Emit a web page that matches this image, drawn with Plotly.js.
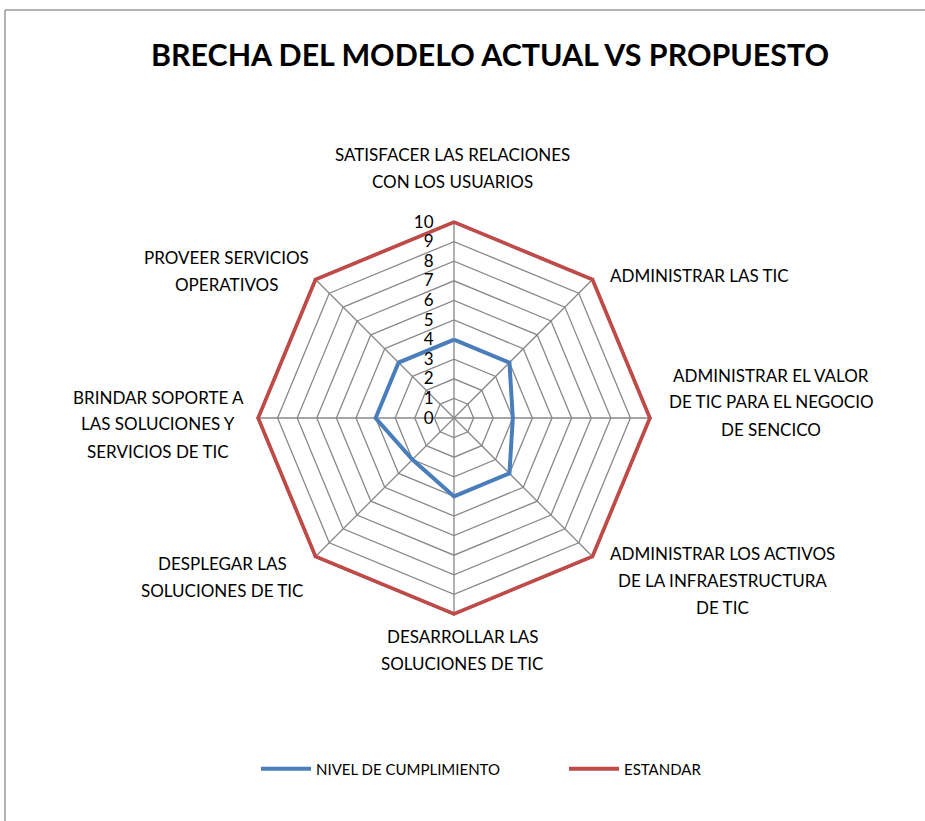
<!DOCTYPE html>
<html>
<head>
<meta charset="utf-8">
<script src="https://cdn.plot.ly/plotly-3.0.1.min.js"></script>
<style>
html,body{margin:0;padding:0;background:#fff;overflow:hidden;}
#chart{width:925px;height:821px;}
</style>
</head>
<body>
<div id="chart"></div>
<script>
// ---- data ----
const categories = [
  "SATISFACER LAS RELACIONES<br>CON LOS USUARIOS",
  "ADMINISTRAR LAS TIC",
  "ADMINISTRAR EL VALOR<br>DE TIC PARA EL NEGOCIO<br>DE SENCICO",
  "ADMINISTRAR LOS ACTIVOS<br>DE LA INFRAESTRUCTURA<br>DE TIC",
  "DESARROLLAR LAS<br>SOLUCIONES DE TIC",
  "DESPLEGAR LAS<br>SOLUCIONES DE TIC",
  "BRINDAR SOPORTE A<br>LAS SOLUCIONES Y<br>SERVICIOS DE TIC",
  "PROVEER SERVICIOS<br>OPERATIVOS"
];
const nivel = [4, 4, 3, 4, 4, 3, 4, 4];
const estandar = [10, 10, 10, 10, 10, 10, 10, 10];
const seriesNames = ["NIVEL DE CUMPLIMIENTO", "ESTANDAR"];
const radialTicks = [0,1,2,3,4,5,6,7,8,9,10];

// ---- layout helpers ----
const W = 925, H = 821;
const px = x => x / W;
const py = y => 1 - y / H;
const LINE_H = 27;
// polar centre / radius (pixels) of value 10; range padded so outer line is not clipped
const CX = 454, CY = 418, R10 = 196, RMAX = 10.1;
const RD = R10 * RMAX / 10;
// label anchor positions (pixels, centre of label block) and alignment
const labelPos = [
  {x: 452, y: 168, xa: "center"},
  {x: 608, y: 276, xa: "left"},
  {x: 771, y: 402, xa: "center"},
  {x: 722, y: 580, xa: "center"},
  {x: 462, y: 650, xa: "center"},
  {x: 222, y: 577, xa: "center"},
  {x: 158, y: 424, xa: "center"},
  {x: 226, y: 271, xa: "center"}
];

const FONT = "Lato, 'Open Sans', sans-serif";

function closed(a){ return a.concat([a[0]]); }
const theta = closed(categories);

const traces = [
  {
    type: "scatterpolar", mode: "lines", cliponaxis: false,
    r: closed(nivel), theta: theta, name: seriesNames[0],
    line: {color: "#4A7EBB", width: 4}
  },
  {
    type: "scatterpolar", mode: "lines", cliponaxis: false,
    r: closed(estandar), theta: theta, name: seriesNames[1],
    line: {color: "#BE4B48", width: 4}
  }
];

const annotations = [];
categories.forEach((c, i) => {
  const lines = c.split("<br>");
  const p = labelPos[i];
  lines.forEach((ln, j) => {
    const yy = p.y + (j - (lines.length - 1) / 2) * LINE_H;
    annotations.push({
      text: ln, xref: "paper", yref: "paper",
      x: px(p.x), y: py(yy),
      xanchor: p.xa, yanchor: "middle", align: "center",
      showarrow: false,
      font: {family: FONT, size: 17, color: "#000"}
    });
  });
});

const layout = {
  width: W, height: H, autosize: false,
  margin: {l: 0, r: 0, t: 0, b: 0, autoexpand: false},
  paper_bgcolor: "#fff",
  showlegend: true,
  title: {
    text: "<b>BRECHA DEL MODELO ACTUAL VS PROPUESTO</b>",
    font: {family: FONT, size: 30.4, color: "#000"},
    xref: "paper", yref: "paper",
    x: px(490), xanchor: "center",
    y: py(55), yanchor: "middle"
  },
  polar: {
    domain: {x: [px(CX - RD), px(CX + RD)], y: [py(CY + RD), py(CY - RD)]},
    gridshape: "linear",
    bgcolor: "rgba(0,0,0,0)",
    angularaxis: {
      direction: "clockwise", rotation: 90,
      showticklabels: false, ticks: "",
      showline: false,
      gridcolor: "#888888", gridwidth: 1.3
    },
    radialaxis: {
      range: [0, RMAX], tickvals: radialTicks, ticktext: radialTicks.map(String),
      angle: 90, side: "counterclockwise", tickangle: 90,
      showline: false, ticks: "outside", ticklen: 14, tickcolor: "rgba(0,0,0,0)",
      gridcolor: "#888888", gridwidth: 1.3,
      tickfont: {family: FONT, size: 17, color: "#000"}
    }
  },
  legend: {
    orientation: "h",
    xref: "container", yref: "container",
    x: px(256), xanchor: "left",
    y: py(769), yanchor: "middle",
    itemwidth: 50,
    entrywidth: 243, entrywidthmode: "pixels",
    font: {family: FONT, size: 15, color: "#000"}
  },
  annotations: annotations,
  shapes: [
    {type: "line", xref: "paper", yref: "paper", x0: px(5), y0: py(10), x1: 1, y1: py(10), line: {color: "#9a9a9a", width: 1.5}},
    {type: "line", xref: "paper", yref: "paper", x0: px(5), y0: py(10), x1: px(5), y1: 0, line: {color: "#9a9a9a", width: 1.5}}
  ]
};

Plotly.newPlot("chart", traces, layout, {displayModeBar: false, staticPlot: true});
</script>
</body>
</html>
